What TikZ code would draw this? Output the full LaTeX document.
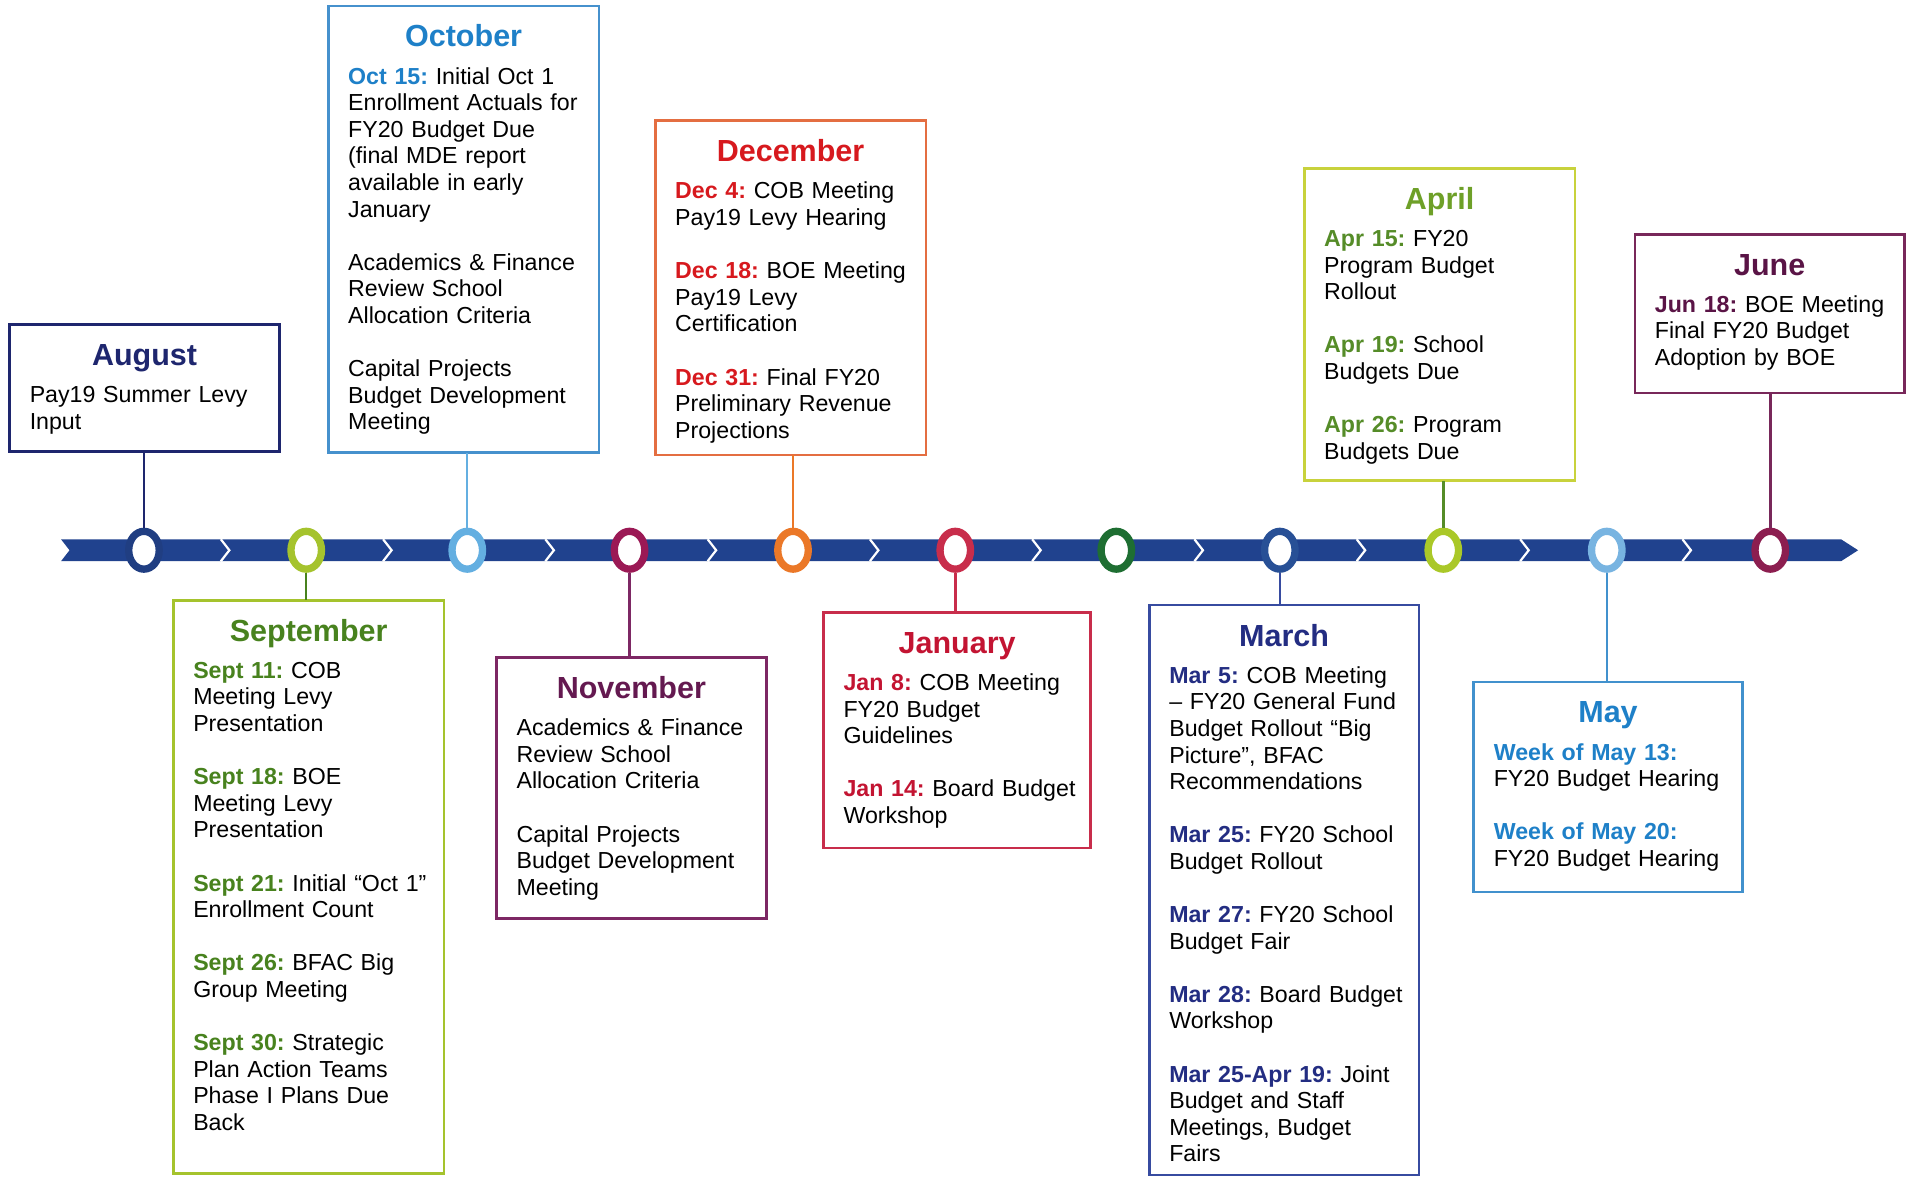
\documentclass[tikz,border=0pt]{standalone}
\usepackage{fontspec}
\setmainfont{Liberation Sans}
\usetikzlibrary{fit,shapes.geometric}
\frenchspacing
\definecolor{cBar}{RGB}{32,66,142}
\definecolor{cAug}{RGB}{30,38,110}
\definecolor{cAugC}{RGB}{32,62,130}
\definecolor{cSepT}{RGB}{72,130,30}
\definecolor{cSepB}{RGB}{165,195,45}
\definecolor{cOct}{RGB}{30,128,200}
\definecolor{cOctB}{RGB}{70,145,205}
\definecolor{cOctC}{RGB}{100,175,225}
\definecolor{cNov}{RGB}{100,25,80}
\definecolor{cNovB}{RGB}{125,40,100}
\definecolor{cNovC}{RGB}{155,25,85}
\definecolor{cDec}{RGB}{215,25,30}
\definecolor{cDecB}{RGB}{228,110,65}
\definecolor{cDecC}{RGB}{235,120,40}
\definecolor{cJan}{RGB}{195,20,50}
\definecolor{cJanB}{RGB}{200,45,75}
\definecolor{cFebC}{RGB}{30,110,50}
\definecolor{cMar}{RGB}{35,45,130}
\definecolor{cMarB}{RGB}{55,75,160}
\definecolor{cMarC}{RGB}{40,80,150}
\definecolor{cAprT}{RGB}{110,160,40}
\definecolor{cApr}{RGB}{85,140,40}
\definecolor{cAprB}{RGB}{200,210,60}
\definecolor{cAprC}{RGB}{170,200,40}
\definecolor{cMay}{RGB}{30,128,200}
\definecolor{cMayB}{RGB}{65,145,205}
\definecolor{cMayC}{RGB}{120,180,225}
\definecolor{cJun}{RGB}{90,20,70}
\definecolor{cJunB}{RGB}{120,40,90}
\definecolor{cJunC}{RGB}{140,30,80}
\newcommand\mlab[2]{\textcolor{#1}{\bfseries #2}}
\newcommand\monthbox[7]{%
  \node[frame, draw=#2, fit={#4 #5}] (#1) {};
  \node[mtitle, text=#3] (#1-t) at ([yshift=-16.75pt]#1.north) {#6};
  \node[mtext] (#1-b) at ([xshift=8pt,yshift=-32pt]#1.north west) {\frenchspacing #7};
}
\begin{document}
\begin{tikzpicture}[x=0.5pt,y=-0.5pt,
  frame/.style={draw, line width=1.1pt, inner sep=0pt, outer sep=0pt, fill=white},
  mtitle/.style={font=\fontsize{12.5}{15}\selectfont\bfseries, anchor=base, inner sep=0pt},
  mtext/.style={font=\fontsize{9.5}{10.9}\selectfont, anchor=base west, inner sep=0pt, text width=108pt, align=left},
  ring/.style={ellipse, fill=white, line width=3pt, minimum width=12.5pt, minimum height=15.5pt, inner sep=0pt},
  conn/.style={line width=1pt},
  chev/.style={white, line width=0.9pt}]
\fill[white] (0,0) rectangle (1568,964);
\useasboundingbox (0,0) rectangle (1568,964);
% timeline bar
\fill[cBar] (50,442) -- (1509,442) -- (1523,451) -- (1509,460) -- (50,460) -- (57,451) -- cycle;
\foreach \cx in {185,318,451,584,717,850,983,1116,1250,1383}
  \draw[chev] (\cx-4,442) -- (\cx+3,451) -- (\cx-4,460);
% boxes
\monthbox{aug}{cAug}{cAug}{(8,266)}{(229,370)}{August}{Pay19 Summer Levy\\Input}
\monthbox{oct}{cOctB}{cOct}{(269,5)}{(491,371)}{October}{\mlab{cOct}{Oct 15:} Initial Oct 1\\Enrollment Actuals for\\FY20 Budget Due\\(final MDE report\\available in early\\January\\[10.9pt]Academics \& Finance\\Review School\\Allocation Criteria\\[10.9pt]Capital Projects\\Budget Development\\Meeting}
\monthbox{dec}{cDecB}{cDec}{(537,99)}{(759,373)}{December}{\mlab{cDec}{Dec 4:} COB Meeting\\Pay19 Levy Hearing\\[10.9pt]\mlab{cDec}{Dec 18:} BOE Meeting\\Pay19 Levy\\Certification\\[10.9pt]\mlab{cDec}{Dec 31:} Final FY20\\Preliminary Revenue\\Projections}
\monthbox{apr}{cAprB}{cAprT}{(1069,138)}{(1291,394)}{April}{\mlab{cApr}{Apr 15:} FY20\\Program Budget\\Rollout\\[10.9pt]\mlab{cApr}{Apr 19:} School\\Budgets Due\\[10.9pt]\mlab{cApr}{Apr 26:} Program\\Budgets Due}
\monthbox{jun}{cJunB}{cJun}{(1340,192)}{(1561,322)}{June}{\mlab{cJun}{Jun 18:} BOE Meeting\\Final FY20 Budget\\Adoption by BOE}
\monthbox{sep}{cSepB}{cSepT}{(142,492)}{(364,962)}{September}{\mlab{cSepT}{Sept 11:} COB\\Meeting Levy\\Presentation\\[10.9pt]\mlab{cSepT}{Sept 18:} BOE\\Meeting Levy\\Presentation\\[10.9pt]\mlab{cSepT}{Sept 21:} Initial “Oct 1”\\Enrollment Count\\[10.9pt]\mlab{cSepT}{Sept 26:} BFAC Big\\Group Meeting\\[10.9pt]\mlab{cSepT}{Sept 30:} Strategic\\Plan Action Teams\\Phase I Plans Due\\Back}
\monthbox{nov}{cNovB}{cNov}{(407,539)}{(628,753)}{November}{Academics \& Finance\\Review School\\Allocation Criteria\\[10.9pt]Capital Projects\\Budget Development\\Meeting}
\monthbox{jan}{cJanB}{cJan}{(675,502)}{(894,695)}{January}{\mlab{cJan}{Jan 8:} COB Meeting\\FY20 Budget\\Guidelines\\[10.9pt]\mlab{cJan}{Jan 14:} Board Budget\\Workshop}
\monthbox{mar}{cMarB}{cMar}{(942,496)}{(1163,963)}{March}{\mlab{cMar}{Mar 5:} COB Meeting\\– FY20 General Fund\\Budget Rollout “Big\\Picture”, BFAC\\Recommendations\\[10.9pt]\mlab{cMar}{Mar 25:} FY20 School\\Budget Rollout\\[10.9pt]\mlab{cMar}{Mar 27:} FY20 School\\Budget Fair\\[10.9pt]\mlab{cMar}{Mar 28:} Board Budget\\Workshop\\[10.9pt]\mlab{cMar}{Mar 25-Apr 19:} Joint\\Budget and Staff\\Meetings, Budget\\Fairs}
\monthbox{may}{cMayB}{cMay}{(1208,559)}{(1428,731)}{May}{\mlab{cMay}{Week of May 13:}\\FY20 Budget Hearing\\[10.9pt]\mlab{cMay}{Week of May 20:}\\FY20 Budget Hearing}
% circles
\node[ring, draw=cAugC] (cAug) at (118,451) {};
\node[ring, draw=cSepB] (cSep) at (251,451) {};
\node[ring, draw=cOctC] (cOct) at (383,451) {};
\node[ring, draw=cNovC] (cNov) at (516,451) {};
\node[ring, draw=cDecC] (cDec) at (650,451) {};
\node[ring, draw=cJanB] (cJan) at (783,451) {};
\node[ring, draw=cFebC] (cFeb) at (915,451) {};
\node[ring, draw=cMarC] (cMar) at (1049,451) {};
\node[ring, draw=cAprC] (cApr) at (1183,451) {};
\node[ring, draw=cMayC] (cMay) at (1317,451) {};
\node[ring, draw=cJunC] (cJun) at (1451,451) {};
% connectors
\draw[conn, cAug] (cAug.north) -- (cAug.north |- aug.south);
\draw[conn, cOctC] (cOct.north) -- (cOct.north |- oct.south);
\draw[conn, cDecC] (cDec.north) -- (cDec.north |- dec.south);
\draw[conn, cApr] (cApr.north) -- (cApr.north |- apr.south);
\draw[conn, cJunB] (cJun.north) -- (cJun.north |- jun.south);
\draw[conn, cSepT] (cSep.south) -- (cSep.south |- sep.north);
\draw[conn, cNovB] (cNov.south) -- (cNov.south |- nov.north);
\draw[conn, cJanB] (cJan.south) -- (cJan.south |- jan.north);
\draw[conn, cMarB] (cMar.south) -- (cMar.south |- mar.north);
\draw[conn, cMayB] (cMay.south) -- (cMay.south |- may.north);
\end{tikzpicture}
\end{document}
